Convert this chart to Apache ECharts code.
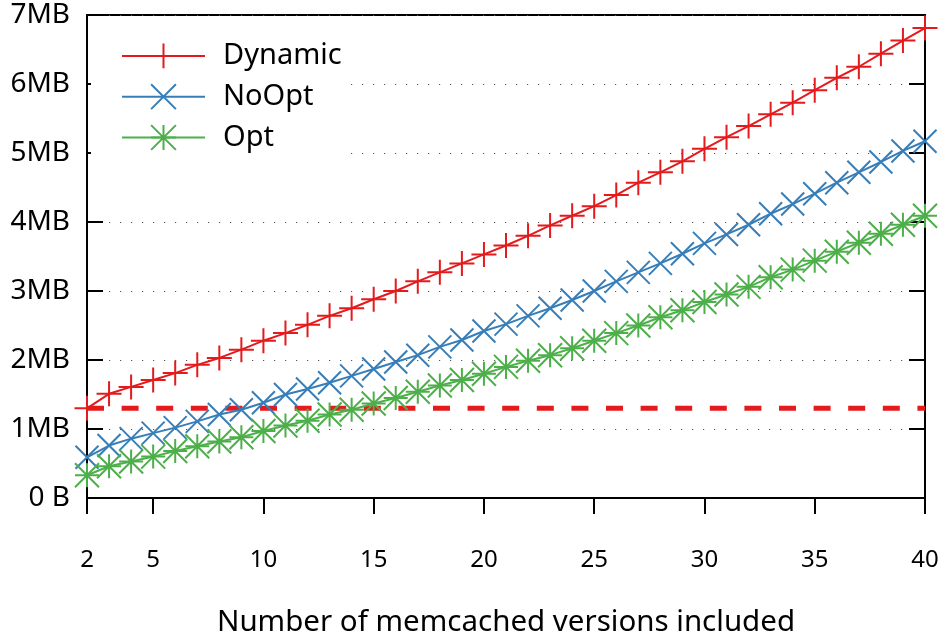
<!DOCTYPE html>
<html>
<head>
<meta charset="utf-8">
<script src="https://cdn.jsdelivr.net/npm/echarts@6/dist/echarts.min.js"></script>
<style>
  html, body { margin: 0; padding: 0; background: #fff; }
  #chart { width: 947px; height: 643px; }
</style>
</head>
<body>
<div id="chart"></div>
<script>
// Number of memcached versions bundled together
const versions = [2, 3, 4, 5, 6, 7, 8, 9, 10, 11, 12, 13, 14, 15, 16, 17, 18, 19, 20, 21,
  22, 23, 24, 25, 26, 27, 28, 29, 30, 31, 32, 33, 34, 35, 36, 37, 38, 39, 40];

// Size in MB for each variant
const dynamicMB = [1.30, 1.51, 1.61, 1.71, 1.81, 1.93, 2.03, 2.15, 2.28, 2.39,
  2.51, 2.64, 2.75, 2.88, 3.00, 3.14, 3.27, 3.40, 3.53, 3.66,
  3.80, 3.95, 4.09, 4.23, 4.39, 4.57, 4.72, 4.88, 5.06,
  5.23, 5.39, 5.56, 5.73, 5.91, 6.09, 6.25, 6.44, 6.63, 6.81];
const noOptMB = [0.59, 0.76, 0.86, 0.94, 1.02, 1.11, 1.21, 1.28, 1.38, 1.50,
  1.58, 1.67, 1.77, 1.87, 1.97, 2.07, 2.19, 2.29, 2.42, 2.52,
  2.64, 2.75, 2.87, 3.00, 3.14, 3.27, 3.40, 3.54, 3.69,
  3.82, 3.96, 4.12, 4.26, 4.41, 4.57, 4.72, 4.87, 5.03, 5.17];
const optMB = [0.33, 0.46, 0.53, 0.60, 0.68, 0.75, 0.82, 0.88, 0.97, 1.05,
  1.12, 1.21, 1.28, 1.37, 1.45, 1.54, 1.63, 1.71, 1.80, 1.90,
  1.99, 2.07, 2.17, 2.28, 2.39, 2.50, 2.62, 2.72, 2.84,
  2.95, 3.06, 3.20, 3.31, 3.44, 3.57, 3.70, 3.83, 3.96, 4.09];

// Reference level drawn as a dashed line
const limitMB = 1.3;

// Axis ticks
const xTicks = [2, 5, 10, 15, 20, 25, 30, 35, 40];
const yTicks = [0, 1, 2, 3, 4, 5, 6, 7];
const seriesNames = ['Dynamic', 'NoOpt', 'Opt'];

const RED = '#e41a1c', BLUE = '#377eb8', GREEN = '#4daf4a';
const FONT = 'Noto Sans';

const SYM_PLUS = 'path://M0,12 L24,12 M12,0 L12,24';
const SYM_CROSS = 'path://M0,0 L24,24 M24,0 L0,24';
const SYM_STAR = 'path://M0,12 L24,12 M12,0 L12,24 M0,0 L24,24 M24,0 L0,24';

function pairs(xs, ys) {
  return xs.map((x, i) => [x, ys[i]]);
}

function markedLine(name, values, color, symbol, size) {
  return {
    name: name,
    type: 'line',
    data: pairs(versions, values),
    symbol: symbol,
    symbolSize: size,
    showAllSymbol: true,
    clip: false,
    lineStyle: { color: color, width: 2 },
    itemStyle: { color: 'none', borderColor: color, borderWidth: 2 },
    emphasis: { disabled: true },
    z: 3
  };
}

const chart = echarts.init(document.getElementById('chart'), null, { renderer: 'canvas' });

chart.setOption({
  animation: false,
  backgroundColor: '#fff',
  grid: {
    left: 87, right: 22, top: 15, bottom: 142,
    show: true, borderColor: '#000', borderWidth: 2, backgroundColor: 'transparent'
  },
  legend: {
    data: seriesNames,
    orient: 'vertical',
    left: 91,
    top: 25,
    padding: [16, 0, 14, 30],
    backgroundColor: '#fff',
    itemWidth: 83,
    itemHeight: 31,
    itemGap: 11,
    selectedMode: false,
    textStyle: { fontFamily: FONT, fontSize: 29, color: '#000', padding: [0, 0, 0, 13] }
  },
  xAxis: {
    type: 'value',
    min: 2,
    max: 40,
    name: 'Number of memcached versions included',
    nameLocation: 'middle',
    nameGap: 110,
    nameTextStyle: { fontFamily: FONT, fontSize: 29.5, color: '#000' },
    axisLine: { show: true, lineStyle: { color: '#000', width: 2 } },
    axisTick: {
      show: true, inside: false, length: 16, customValues: xTicks,
      lineStyle: { color: '#000', width: 2 }
    },
    axisLabel: {
      customValues: xTicks, margin: 50,
      fontFamily: FONT, fontSize: 24, color: '#000'
    },
    splitLine: { show: false }
  },
  yAxis: [{
    type: 'value',
    min: 0,
    max: 7,
    interval: 1,
    axisLine: { show: true, lineStyle: { color: '#000', width: 2 } },
    axisTick: { show: true, inside: true, length: 16, lineStyle: { color: '#000', width: 2 } },
    axisLabel: {
      margin: 17, fontFamily: FONT, fontSize: 28, color: '#000',
      formatter: v => (v === 0 ? '0 B' : v + 'MB')
    },
    splitLine: { show: true, lineStyle: { color: '#555', width: 1, type: [1.2, 9.8] } }
  }, {
    type: 'value',
    min: 0,
    max: 7,
    interval: 1,
    position: 'right',
    axisLine: { show: true, lineStyle: { color: '#000', width: 2 } },
    axisTick: { show: true, inside: true, length: 16, lineStyle: { color: '#000', width: 2 } },
    axisLabel: { show: false },
    splitLine: { show: false }
  }],
  series: [
    {
      name: 'limit',
      type: 'line',
      data: [[versions[0], limitMB], [versions[versions.length - 1], limitMB]],
      symbol: 'none',
      lineStyle: { color: RED, width: 5, type: [17, 17.6] },
      emphasis: { disabled: true },
      silent: true,
      z: 2
    },
    markedLine('Dynamic', dynamicMB, RED, SYM_PLUS, 25),
    markedLine('NoOpt', noOptMB, BLUE, SYM_CROSS, 23),
    markedLine('Opt', optMB, GREEN, SYM_STAR, 24)
  ]
});
</script>
</body>
</html>
